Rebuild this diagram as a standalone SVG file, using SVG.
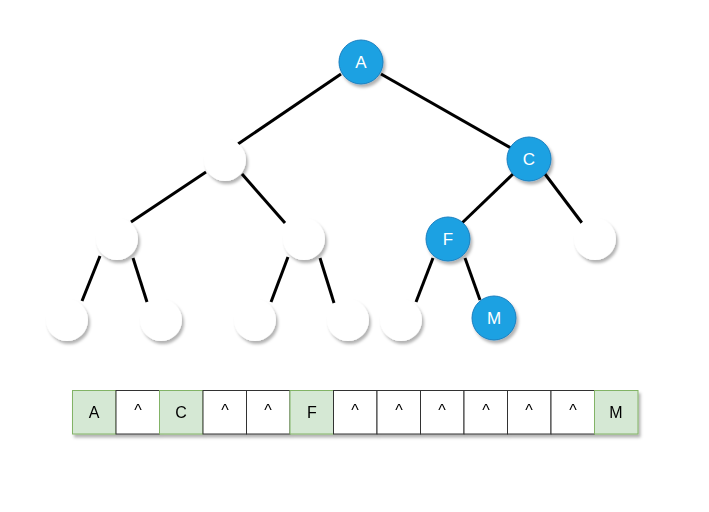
<svg xmlns="http://www.w3.org/2000/svg" width="709" height="512" viewBox="0 0 709 512">
<defs>
<filter id="sh" x="-30%" y="-30%" width="170%" height="170%">
<feDropShadow dx="2" dy="3" stdDeviation="1.8" flood-color="#000" flood-opacity="0.3"/>
</filter>
<style>
.e{stroke:#000;stroke-width:3;fill:none}
.w{fill:#fff;stroke:none;filter:url(#sh)}
.b{fill:#1ba1e2;stroke:#1a7fc0;stroke-width:1;filter:url(#sh)}
.bt{fill:#fff;font-family:"Liberation Sans",Arial,sans-serif;font-size:17px;text-anchor:middle;dominant-baseline:central}
.g{fill:#d5e8d4;stroke:#82b366;stroke-width:1}
.c{fill:#fff;stroke:#333;stroke-width:1}
.t{fill:#000;font-family:"Liberation Sans",Arial,sans-serif;font-size:16px;text-anchor:middle;dominant-baseline:central}
</style>
</defs>
<rect width="709" height="512" fill="#fff"/>
<g id="edges">
<line class="e" x1="341" y1="74" x2="238" y2="144"/>
<line class="e" x1="381" y1="74" x2="511" y2="148"/>
<line class="e" x1="206" y1="172" x2="131" y2="222"/>
<line class="e" x1="242" y1="174" x2="285" y2="223"/>
<line class="e" x1="513" y1="174" x2="462" y2="223"/>
<line class="e" x1="545" y1="174" x2="582" y2="223"/>
<line class="e" x1="100" y1="256" x2="82" y2="301"/>
<line class="e" x1="133" y1="258" x2="147" y2="302"/>
<line class="e" x1="288" y1="257" x2="271" y2="302"/>
<line class="e" x1="320" y1="258" x2="334" y2="303"/>
<line class="e" x1="433" y1="258" x2="416" y2="302"/>
<line class="e" x1="465" y1="258" x2="480" y2="300"/>
</g>
<g id="nA"><circle class="b" cx="361" cy="62" r="22"/><text class="bt" x="361" y="62">A</text></g>
<g id="nB"><circle class="w" cx="225" cy="160" r="21"/></g>
<g id="nC"><circle class="b" cx="529" cy="159" r="22"/><text class="bt" x="529" y="159">C</text></g>
<g id="nD"><circle class="w" cx="117" cy="239" r="21"/></g>
<g id="nE"><circle class="w" cx="304" cy="239" r="21"/></g>
<g id="nF"><circle class="b" cx="448" cy="239" r="22"/><text class="bt" x="448" y="239">F</text></g>
<g id="nG"><circle class="w" cx="595" cy="239" r="21"/></g>
<g id="nH"><circle class="w" cx="67" cy="320" r="21"/></g>
<g id="nI"><circle class="w" cx="161" cy="320" r="21"/></g>
<g id="nJ"><circle class="w" cx="255" cy="320" r="21"/></g>
<g id="nK"><circle class="w" cx="348" cy="320" r="21"/></g>
<g id="nL"><circle class="w" cx="401" cy="320" r="21"/></g>
<g id="nM"><circle class="b" cx="494" cy="318" r="22"/><text class="bt" x="494" y="318">M</text></g>
<g id="array" filter="url(#sh)">
<rect class="g" x="72.5" y="390.5" width="43.5" height="43.5"/><text class="t" x="94" y="412">A</text>
<rect class="c" x="116" y="390.5" width="43.5" height="43.5"/><text class="t" x="138" y="410">^</text>
<rect class="g" x="159.5" y="390.5" width="43.5" height="43.5"/><text class="t" x="181" y="412">C</text>
<rect class="c" x="203" y="390.5" width="43.5" height="43.5"/><text class="t" x="225" y="410">^</text>
<rect class="c" x="246.5" y="390.5" width="43.5" height="43.5"/><text class="t" x="268" y="410">^</text>
<rect class="g" x="290" y="390.5" width="43.5" height="43.5"/><text class="t" x="312" y="412">F</text>
<rect class="c" x="333.5" y="390.5" width="43.5" height="43.5"/><text class="t" x="355" y="410">^</text>
<rect class="c" x="377" y="390.5" width="43.5" height="43.5"/><text class="t" x="399" y="410">^</text>
<rect class="c" x="420.5" y="390.5" width="43.5" height="43.5"/><text class="t" x="442" y="410">^</text>
<rect class="c" x="464" y="390.5" width="43.5" height="43.5"/><text class="t" x="486" y="410">^</text>
<rect class="c" x="507.5" y="390.5" width="43.5" height="43.5"/><text class="t" x="529" y="410">^</text>
<rect class="c" x="551" y="390.5" width="43.5" height="43.5"/><text class="t" x="573" y="410">^</text>
<rect class="g" x="594.5" y="390.5" width="43.5" height="43.5"/><text class="t" x="616" y="412">M</text>
</g>
</svg>
